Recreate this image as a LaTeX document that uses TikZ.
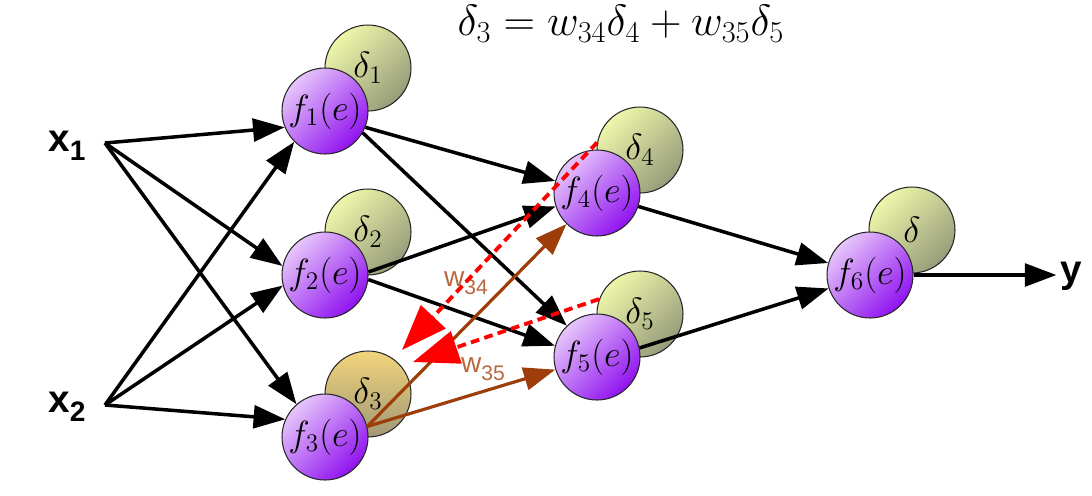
\documentclass[tikz,border=0pt]{standalone}
\usepackage{fontspec}
\setsansfont{Liberation Sans}
\usetikzlibrary{arrows.meta}

\definecolor{fLight}{HTML}{E6C6FA}
\definecolor{fDark}{HTML}{9012F0}
\definecolor{dLight}{HTML}{EEF6AA}
\definecolor{dDark}{HTML}{979C7A}
\definecolor{dHotLight}{HTML}{F2D47C}
\definecolor{dHotDark}{HTML}{A09876}
\definecolor{wBrown}{HTML}{9C3D0A}
\definecolor{wText}{HTML}{B8683F}

\newcommand{\wsub}[1]{w\raisebox{-0.5ex}{\fontsize{12}{13}\selectfont #1}}
\newcommand{\xsub}[2]{\textbf{#1}\raisebox{-0.45ex}{\fontsize{16}{17}\selectfont\textbf{#2}}}

\begin{document}
\begin{tikzpicture}[x=0.02cm, y=-0.02cm,
	fnode/.style={circle, draw=black!85, line width=0.6pt, minimum size=1.72cm, inner sep=-12pt,
		top color=fLight, bottom color=fDark, shading angle=45, font=\fontsize{21}{23}\selectfont},
	dnode/.style={circle, draw=black!85, line width=0.6pt, minimum size=1.72cm, inner sep=-12pt,
		top color=dLight, bottom color=dDark, shading angle=45, font=\fontsize{21}{23}\selectfont},
	dhot/.style={dnode, top color=dHotLight, bottom color=dHotDark},
	link/.style={line width=2pt, -{Triangle[length=18pt,width=13pt]}},
	wlink/.style={wBrown, line width=1.8pt, -{Triangle[length=18pt,width=13pt]}},
	errline/.style={red, line width=2.2pt, dash pattern=on 5pt off 3pt, -{Triangle[length=26pt,width=19pt]}},
	wlabel/.style={wText, font=\sffamily\fontsize{16}{18}\selectfont},
	iolabel/.style={font=\sffamily\fontsize{22}{24}\selectfont, inner sep=2pt}]
	\useasboundingbox (0,0) rectangle (1092,495);

	% error terms behind the units
	\node[dnode] (d1) at (368,68) {$\delta_1$};
	\node[dnode] (d2) at (368,232) {$\delta_2$};
	\node[dhot]  (d3) at (368,394) {$\delta_3$};
	\node[dnode] (d4) at (640,150) {$\delta_4$};
	\node[dnode] (d5) at (640,314) {$\delta_5$};
	\node[dnode] (d6) at (912,230) {$\delta$};

	% units
	\node[fnode] (f1) at (325,111) {$f_1(e)$};
	\node[fnode] (f2) at (325,275) {$f_2(e)$};
	\node[fnode] (f3) at (325,437) {$f_3(e)$};
	\node[fnode] (f4) at (597,193) {$f_4(e)$};
	\node[fnode] (f5) at (597,357) {$f_5(e)$};
	\node[fnode] (f6) at (870,275) {$f_6(e)$};

	\node[iolabel] (x1) at (67,146) {\xsub{x}{1}};
	\node[iolabel] (x2) at (67,407) {\xsub{x}{2}};
	\node[iolabel] (y) at (1071,276) {\textbf{y}};
	\coordinate (s1) at (105,143);
	\coordinate (s2) at (105,405);

	\node at (621,24) {\fontsize{23}{26}\selectfont $\delta_3 = w_{34}\delta_4 + w_{35}\delta_5$};

	% inputs
	\draw[link] (s1) -- (f1.202);
	\draw[link] (s1) -- (f2.168);
	\draw[link] (s1) -- (f3.131);
	\draw[link] (s2) -- (f1.225);
	\draw[link] (s2) -- (f2.194);
	\draw[link] (s2) -- (f3.156);

	% hidden layer
	\draw[link] (f1.-22) -- (f4.164);
	\draw[link] (f1.-30) -- (f5.134);
	\draw[link] (f2.4) -- (f4.198);
	\draw[link] (f2.-6) -- (f5.165);
	\draw[wlink] (f3.14) -- (f4);
	\draw[wlink] (f3.14) -- (f5);
	\draw[link] (f4.-18) -- (f6.164);
	\draw[link] (f5.12) -- (f6.198);
	\draw[link] (f6.east) -- (f6.east -| y.west);

	\node[wlabel] (w34) at (466,283) {\wsub{34}};
	\node[wlabel] (w35) at (483,369) {\wsub{35}};

	% back propagated error
	\coordinate (e4) at (402,350);
	\coordinate (e5) at (413,362);
	\draw[errline] (d4.170) -- (e4);
	\draw[errline] (d5.160) -- (e5);
\end{tikzpicture}
\end{document}
